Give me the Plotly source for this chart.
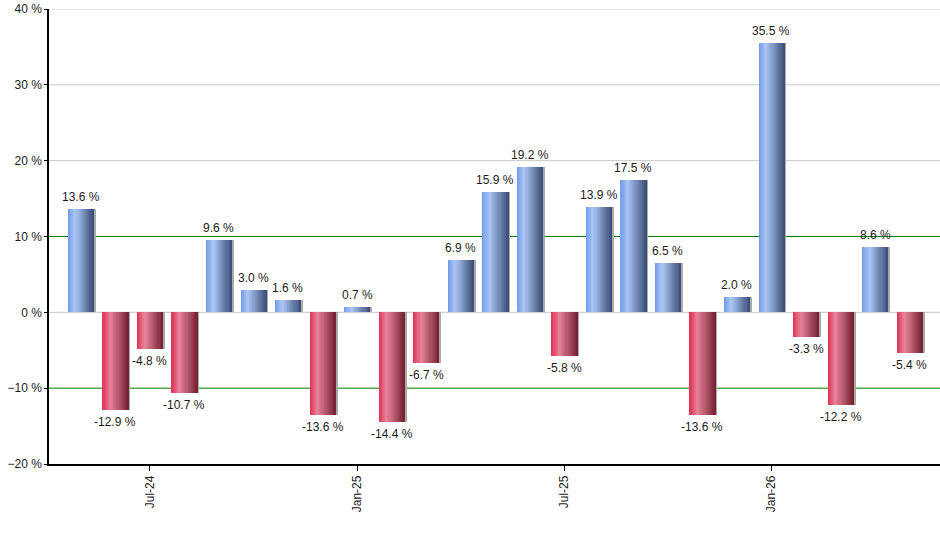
import plotly.graph_objs as go

months = ['May-24', 'Jun-24', 'Jul-24', 'Aug-24', 'Sep-24', 'Oct-24', 'Nov-24', 'Dec-24',
          'Jan-25', 'Feb-25', 'Mar-25', 'Apr-25', 'May-25', 'Jun-25', 'Jul-25', 'Aug-25',
          'Sep-25', 'Oct-25', 'Nov-25', 'Dec-25', 'Jan-26', 'Feb-26', 'Mar-26', 'Apr-26',
          'May-26']
returns = [13.6, -12.9, -4.8, -10.7, 9.6, 3.0, 1.6, -13.6,
           0.7, -14.4, -6.7, 6.9, 15.9, 19.2, -5.8, 13.9,
           17.5, 6.5, -13.6, 2.0, 35.5, -3.3, -12.2, 8.6,
           -5.4]
tick_months = ['Jul-24', 'Jan-25', 'Jul-25', 'Jan-26']
grey_levels = [40, 30, 20, 0]
green_levels = [10, -10]

BAR_WIDTH = 0.75
SLICES = 24
BLUE = [(0.0, (112, 154, 234)), (0.28, (172, 198, 245)), (1.0, (58, 78, 118))]
RED = [(0.0, (222, 48, 84)), (0.3, (232, 132, 154)), (1.0, (118, 32, 50))]
FONT = 'Liberation Sans, Arial'


def blend(stops, t):
    for (t0, c0), (t1, c1) in zip(stops, stops[1:]):
        if t <= t1:
            f = (t - t0) / (t1 - t0)
            rgb = [round(a + (b - a) * f) for a, b in zip(c0, c1)]
            return 'rgb(%d,%d,%d)' % tuple(rgb)
    return 'rgb(%d,%d,%d)' % stops[-1][1]


def hline(level, color):
    return dict(type='line', xref='paper', yref='y', x0=0, x1=1, y0=level, y1=level,
                line=dict(color=color, width=1), layer='below')


x = list(range(len(months)))
plot_data = []

# shadow behind each bar
plot_data.append(go.Bar(
    x=x, y=returns, width=BAR_WIDTH, offset=-BAR_WIDTH / 2 + 0.06,
    marker=dict(color='rgb(170,170,170)', line=dict(width=0)),
    hoverinfo='skip', showlegend=False
))

# gradient: each slice runs to the right edge, the next one covers it
slice_w = BAR_WIDTH / SLICES
for i in range(SLICES):
    t = (i + 0.5) / SLICES
    colors = [blend(BLUE, t) if v >= 0 else blend(RED, t) for v in returns]
    plot_data.append(go.Bar(
        x=x, y=returns, width=BAR_WIDTH - i * slice_w, offset=-BAR_WIDTH / 2 + i * slice_w,
        marker=dict(color=colors, line=dict(width=0)),
        hoverinfo='skip', showlegend=False
    ))

annotations = []
for xi, v in zip(x, returns):
    annotations.append(dict(
        x=xi, y=v, xref='x', yref='y', text='%.1f %%' % v, showarrow=False,
        yanchor='bottom' if v >= 0 else 'top', yshift=3 if v >= 0 else -3,
        font=dict(family=FONT, size=12, color='#1a1a1a')
    ))

layout = go.Layout(
    width=940, height=550,
    barmode='overlay', bargap=0,
    plot_bgcolor='white', paper_bgcolor='white',
    margin=dict(l=49, r=0, t=9, b=86),
    font=dict(family=FONT, size=12, color='#1a1a1a'),
    xaxis=dict(
        range=[-0.92, 24.88],
        tickmode='array',
        tickvals=[months.index(m) for m in tick_months],
        ticktext=tick_months,
        tickangle=-90,
        ticks='outside', ticklen=5, tickcolor='black',
        showgrid=False, zeroline=False, automargin=False,
        showline=True, linecolor='black', linewidth=1.5,
    ),
    yaxis=dict(
        range=[-20, 40], dtick=10,
        ticksuffix=' %',
        ticks='outside', ticklen=3, tickcolor='black',
        showgrid=False, zeroline=False,
        showline=True, linecolor='black', linewidth=1.5, automargin=False,
    ),
    shapes=[hline(v, '#c8c8c8') for v in grey_levels] +
           [hline(v, '#008000') for v in green_levels],
    annotations=annotations,
)

fig = go.Figure(data=plot_data, layout=layout)
fig.write_html('out.html', config={'displayModeBar': False},
               post_script="document.body.style.margin='0px';")
